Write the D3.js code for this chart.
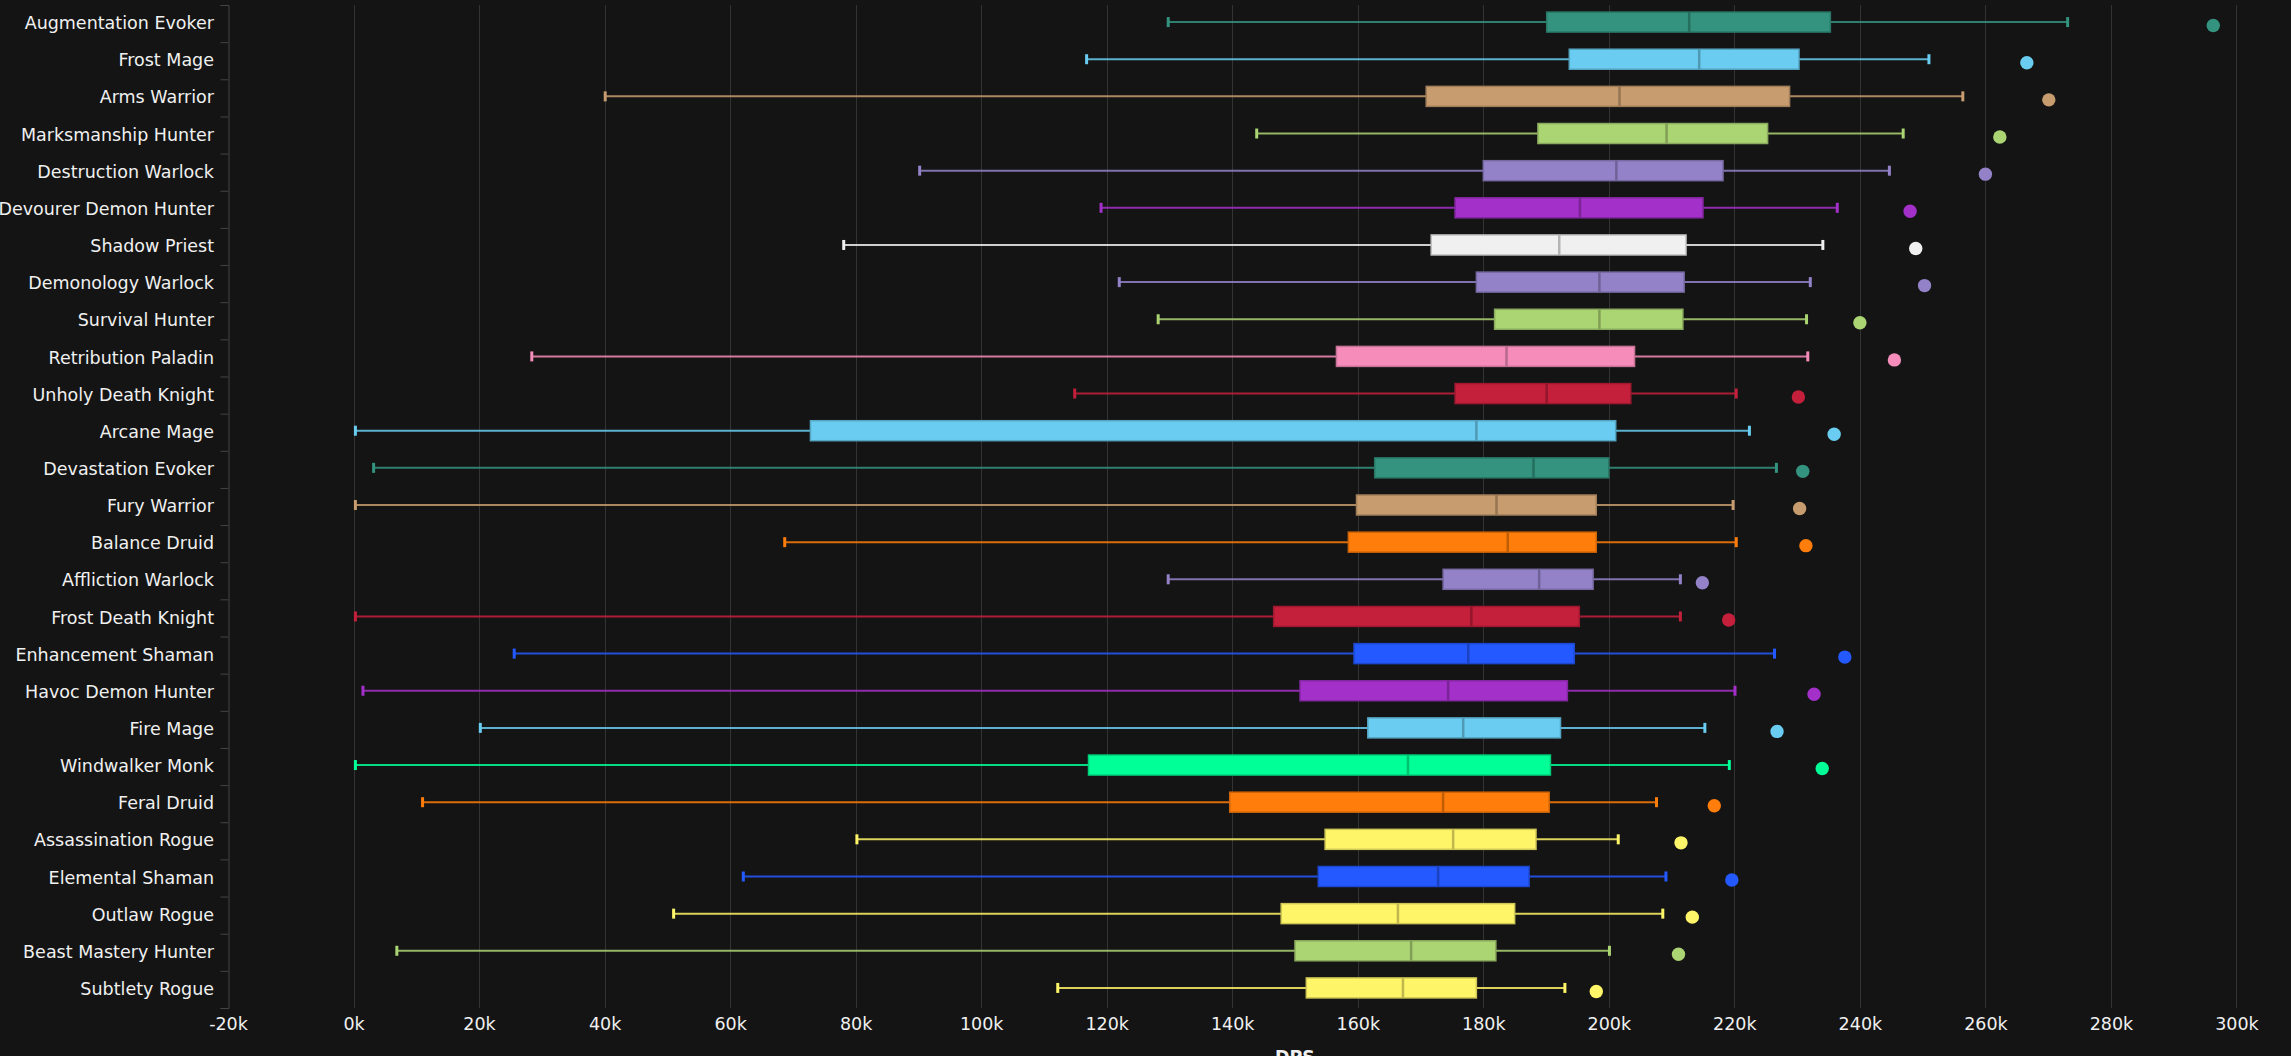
<!DOCTYPE html>
<html>
<head>
<meta charset="utf-8">
<script src="https://cdn.jsdelivr.net/npm/d3@7"></script>
<style>
  html, body {
    margin: 0;
    padding: 0;
    background: #141414;
    overflow: hidden;
  }
  #graphicContainer text {
    font-family: "DejaVu Sans", Verdana, sans-serif;
    font-size: 17.5px;
    fill: #f0f0f0;
  }
</style>
</head>
<body>
<div id="graphicContainer"></div>
<script>
// spec names, top to bottom
var specs = ["Augmentation Evoker", "Frost Mage", "Arms Warrior", "Marksmanship Hunter", "Destruction Warlock",
  "Devourer Demon Hunter", "Shadow Priest", "Demonology Warlock", "Survival Hunter", "Retribution Paladin",
  "Unholy Death Knight", "Arcane Mage", "Devastation Evoker", "Fury Warrior", "Balance Druid",
  "Affliction Warlock", "Frost Death Knight", "Enhancement Shaman", "Havoc Demon Hunter", "Fire Mage",
  "Windwalker Monk", "Feral Druid", "Assassination Rogue", "Elemental Shaman", "Outlaw Rogue",
  "Beast Mastery Hunter", "Subtlety Rogue"]

// box plot values (DPS)
var whiskerLow = [129800, 116800, 40100, 143900, 90200, 119100, 78100, 122000, 128200, 28400,
  114900, 300, 3200, 300, 68700, 129800, 300, 25600, 1500, 20200,
  300, 11000, 80200, 62100, 51000, 6900, 112200]
var q1 = [190100, 193700, 170900, 188700, 180000, 175500, 171700, 178900, 181800, 156600,
  175500, 72800, 162700, 159800, 158500, 173600, 146600, 159400, 150800, 161600,
  117100, 139600, 154800, 153700, 147800, 150000, 151800]
var median = [212800, 214400, 201700, 209200, 201200, 195400, 192100, 198500, 198500, 183700,
  190100, 178900, 188000, 182100, 183900, 188900, 178100, 177600, 174400, 176800,
  168000, 173600, 175200, 172800, 166400, 168500, 167200]
var q3 = [235300, 230300, 228800, 225300, 218200, 215000, 212300, 212000, 211800, 204100,
  203500, 201100, 200000, 198000, 198000, 197500, 195300, 194500, 193400, 192300,
  190700, 190500, 188400, 187300, 185000, 182000, 178900]
var whiskerHigh = [273100, 251000, 256400, 246900, 244700, 236400, 234100, 232100, 231500, 231700,
  220300, 222400, 226700, 219800, 220300, 211400, 211400, 226400, 220100, 215300,
  219200, 207600, 201500, 209100, 208600, 200100, 193000]
var topValue = [296300, 266600, 270100, 262300, 260000, 248000, 248900, 250300, 240000, 245500,
  230200, 235900, 230900, 230400, 231400, 214900, 219100, 237600, 232700, 226800,
  234000, 216800, 211500, 219600, 213300, 211100, 198000]

var xTicks = [-20000, 0, 20000, 40000, 60000, 80000, 100000, 120000, 140000, 160000,
  180000, 200000, 220000, 240000, 260000, 280000, 300000]

var classColors = {
  "Evoker": "#33937F",
  "Mage": "#69CCF0",
  "Warrior": "#C79C6E",
  "Hunter": "#ABD473",
  "Warlock": "#9482C9",
  "Demon Hunter": "#A330C9",
  "Priest": "#F0F0F0",
  "Paladin": "#F58CBA",
  "Death Knight": "#C41F3B",
  "Druid": "#FF7D0A",
  "Shaman": "#2459FF",
  "Monk": "#00FF96",
  "Rogue": "#FFF569"
}

function specColor(name) {
  if (name.endsWith("Demon Hunter")) return classColors["Demon Hunter"]
  if (name.endsWith("Death Knight")) return classColors["Death Knight"]
  var parts = name.split(" ")
  return classColors[parts[parts.length - 1]]
}

var data = specs.map(function (s, i) {
  return {
    spec: s,
    low: whiskerLow[i],
    q1: q1[i],
    median: median[i],
    q3: q3[i],
    high: whiskerHigh[i],
    top: topValue[i],
    color: specColor(s)
  }
})

var width = 2291
var height = 1056
var margin = { top: 5, left: 228, bottom: 48 }
var plotRight = 2362

var svg = d3.select("#graphicContainer").append("svg")
  .attr("width", width)
  .attr("height", height)
  .style("display", "block")

var x = d3.scaleLinear().domain([-20000, 320000]).range([margin.left, plotRight])
var y = d3.scaleBand().domain(specs).range([margin.top, height - margin.bottom])
var yEdges = d3.scaleLinear().domain([0, specs.length]).range([margin.top, height - margin.bottom])

// vertical grid
svg.append("g")
  .attr("class", "grid")
  .selectAll("line")
  .data(xTicks.filter(function (d) { return d > -20000 }))
  .enter().append("line")
  .attr("x1", function (d) { return Math.round(x(d)) + 0.5 })
  .attr("x2", function (d) { return Math.round(x(d)) + 0.5 })
  .attr("y1", margin.top)
  .attr("y2", height - margin.bottom)
  .attr("stroke", "#333")
  .attr("stroke-width", 1)

// x axis labels
var xAxis = svg.append("g")
  .attr("transform", "translate(0," + (height - margin.bottom) + ")")
  .call(d3.axisBottom(x).tickValues(xTicks).tickSize(0).tickPadding(10).tickFormat(function (d) {
    return (d / 1000) + "k"
  }))
xAxis.select(".domain").remove()
xAxis.selectAll("text").text(function (d) { return (d < 0 ? "-" : "") + Math.abs(d / 1000) + "k" })

// y axis: tick marks at band edges
var yEdgeAxis = svg.append("g")
  .attr("transform", "translate(" + (margin.left + 0.5) + ",0)")
  .call(d3.axisLeft(yEdges).tickValues(d3.range(specs.length + 1)).tickSize(8).tickFormat(""))
yEdgeAxis.selectAll("line, path").attr("stroke", "#444")

// y axis labels
var yAxis = svg.append("g")
  .attr("transform", "translate(" + margin.left + ",0)")
  .call(d3.axisLeft(y).tickSize(0).tickPadding(14))
yAxis.select(".domain").remove()

var boxH = 20
var capH = 10

var rows = svg.append("g").attr("class", "boxes")
  .selectAll("g")
  .data(data)
  .enter().append("g")
  .attr("transform", function (d) {
    return "translate(0," + (y(d.spec) + y.bandwidth() / 2 - 1.5) + ")"
  })

// whiskers
rows.append("line")
  .attr("x1", function (d) { return x(d.low) })
  .attr("x2", function (d) { return x(d.q1) })
  .attr("stroke", function (d) { return d.color })
  .attr("stroke-width", 2)
  .attr("stroke-opacity", 0.85)

rows.append("line")
  .attr("x1", function (d) { return x(d.q3) })
  .attr("x2", function (d) { return x(d.high) })
  .attr("stroke", function (d) { return d.color })
  .attr("stroke-width", 2)
  .attr("stroke-opacity", 0.85)

rows.append("line")
  .attr("x1", function (d) { return x(d.low) })
  .attr("x2", function (d) { return x(d.low) })
  .attr("y1", -capH / 2)
  .attr("y2", capH / 2)
  .attr("stroke", function (d) { return d.color })
  .attr("stroke-width", 3)

rows.append("line")
  .attr("x1", function (d) { return x(d.high) })
  .attr("x2", function (d) { return x(d.high) })
  .attr("y1", -capH / 2)
  .attr("y2", capH / 2)
  .attr("stroke", function (d) { return d.color })
  .attr("stroke-width", 3)

// boxes
rows.append("rect")
  .attr("x", function (d) { return x(d.q1) })
  .attr("y", -boxH / 2)
  .attr("width", function (d) { return x(d.q3) - x(d.q1) })
  .attr("height", boxH)
  .attr("fill", function (d) { return d.color })
  .attr("stroke", function (d) { return d3.color(d.color).darker(0.6) })
  .attr("stroke-width", 1.5)

// medians
rows.append("line")
  .attr("x1", function (d) { return x(d.median) })
  .attr("x2", function (d) { return x(d.median) })
  .attr("y1", -boxH / 2)
  .attr("y2", boxH / 2)
  .attr("stroke", function (d) { return d3.color(d.color).darker(0.8) })
  .attr("stroke-width", 2.5)

// top parse dot
rows.append("circle")
  .attr("cx", function (d) { return x(d.top) })
  .attr("cy", 3.5)
  .attr("r", 6.7)
  .attr("fill", function (d) { return d.color })

// axis title
svg.append("text")
  .attr("x", (margin.left + plotRight) / 2)
  .attr("y", 1063)
  .attr("text-anchor", "middle")
  .style("font-weight", "bold")
  .text("DPS")
</script>
</body>
</html>
